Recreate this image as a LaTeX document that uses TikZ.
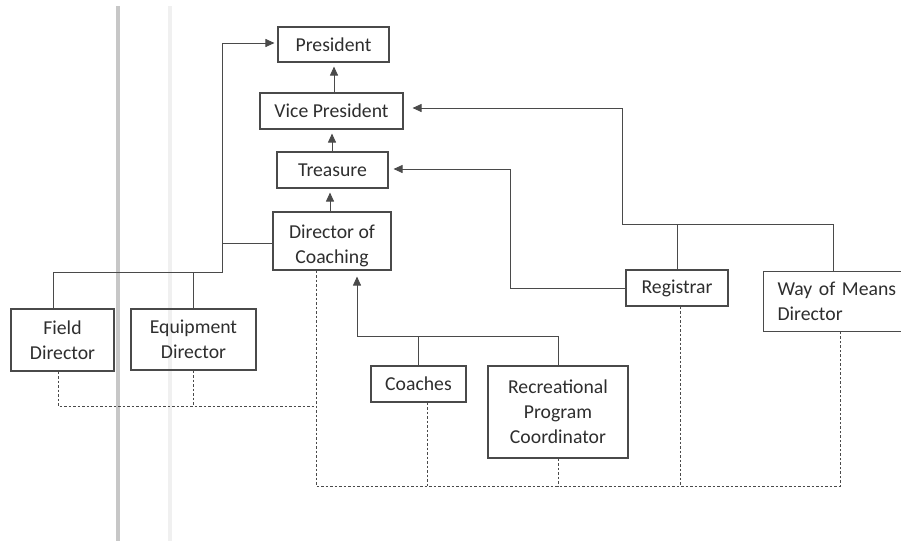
\documentclass[tikz,border=0pt]{standalone}
\usepackage{fontspec}
\setmainfont{Carlito}
\usetikzlibrary{arrows.meta}
\definecolor{ln}{HTML}{4a4a4a}
\definecolor{tx}{HTML}{2e2e2e}
\tikzset{
  box/.style={draw=ln, line width=1.1pt, rectangle, inner sep=0pt, align=center,
    text=tx, font=\fontsize{19.7}{25}\selectfont},
  conn/.style={draw=ln, line width=0.9pt},
  arr/.style={conn, -{Triangle[length=9pt,width=8pt]}, shorten >=4pt},
  dot/.style={draw=ln, line width=0.8pt, dash pattern=on 2.5pt off 2pt}
}
\begin{document}
\begin{tikzpicture}[x=1pt,y=-1pt]
\useasboundingbox (0,0) rectangle (901,541);
\fill[white] (0,0) rectangle (901,541);
% scan artefacts
\fill[black!22] (116,6) rectangle (120,541);
\fill[black!6] (168,6) rectangle (172,541);

% nodes
\node[box, minimum width=111pt, minimum height=35pt] (pres) at (333.5,44.5) {President};
\node[box, minimum width=143pt, minimum height=36pt] (vp) at (331.5,111) {Vice President};
\node[box, minimum width=111pt, minimum height=36pt] (tr) at (332.5,170) {Treasure};
\node[box, minimum width=118pt, minimum height=58pt] (doc) at (332,241)
  {\raisebox{-10pt}[0pt][0pt]{\begin{tabular}{@{}c@{}}Director of\\Coaching\end{tabular}}};
\node[box, minimum width=103pt, minimum height=62pt] (fd) at (62.5,340) {Field\\Director};
\node[box, minimum width=125pt, minimum height=61pt] (ed) at (193.5,339.5) {Equipment\\Director};
\node[box, minimum width=102pt, minimum height=36pt] (reg) at (677,288) {Registrar};
\node[box, anchor=north west, align=left, minimum width=150pt, minimum height=60pt,
      text width=122pt, inner xsep=14pt] (wom) at (763,271) {Way of Means\\Director};
\node[box, minimum width=95pt, minimum height=36pt] (coa) at (418.5,384) {Coaches};
\node[box, minimum width=140pt, minimum height=92pt] (rec) at (558,412) {Recreational\\Program\\Coordinator};

% junctions
\coordinate (j1) at (222,243);
\coordinate (j2) at (222,272);
\coordinate (j3) at (622,224);
\coordinate (j4) at (833,224);
\coordinate (j5) at (510,169);
\coordinate (j6) at (357,336);
\coordinate (j7) at (316,406);
\coordinate (j8) at (316,486);
\coordinate (j9) at (840,486);

% solid connectors
\draw[arr] (vp.north -| 334,0) -- (pres.south -| 334,0);
\draw[arr] (tr.north -| 332,0) -- (vp.south -| 332,0);
\draw[arr] (doc.north -| 330,0) -- (tr.south -| 330,0);
\draw[arr, shorten >=3pt] (doc.west |- j1) -- (j1) |- ([yshift=1.5pt]pres.west);
\draw[conn] (j1) -- (j2) -| ([xshift=-9.5pt]fd.north);
\draw[conn] (ed.north |- j2) -- (ed.north);
\draw[arr, shorten >=9pt] (reg.north) |- (j3) |- ([yshift=3pt]vp.east);
\draw[conn] (j3) -- (j4) -- (j4 |- wom.north);
\draw[arr, shorten >=5pt] (reg.west) -| (j5) -- (tr.east |- j5);
\draw[arr, shorten >=6pt] (rec.north) |- (j6) -- (j6 |- doc.south);
\draw[conn] (coa.north) -- (coa.north |- j6);

% dotted connectors
\draw[dot] ([xshift=-4.5pt]fd.south) |- (j7);
\draw[dot] (ed.south) -- (ed.south |- j7);
\draw[dot] (doc.south -| j8) -- (j8) -- (j9) -- (j9 |- wom.south);
\draw[dot] ([xshift=8.5pt]coa.south) -- ([xshift=8.5pt]coa.south |- j8);
\draw[dot] (rec.south) -- (rec.south |- j8);
\draw[dot] ([xshift=3pt]reg.south) -- ([xshift=3pt]reg.south |- j8);
\end{tikzpicture}
\end{document}
